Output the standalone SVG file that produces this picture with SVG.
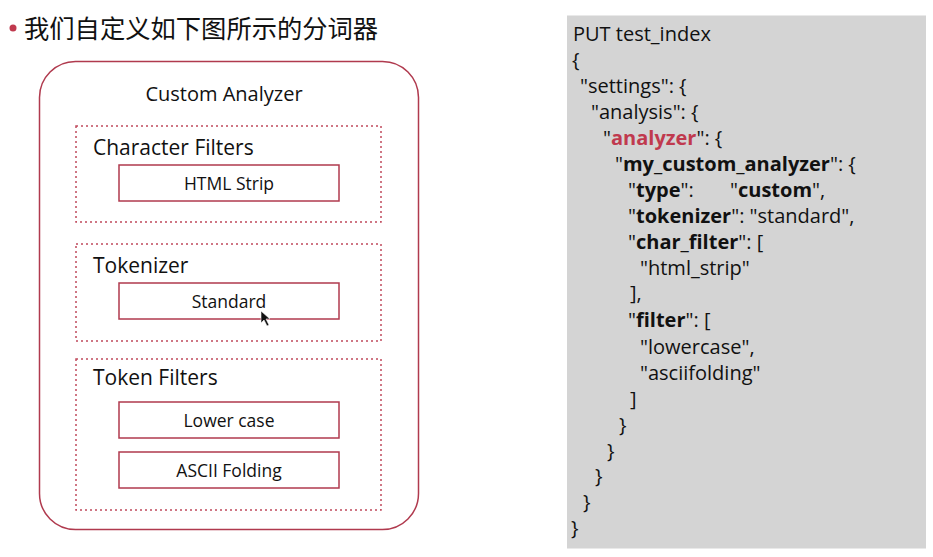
<svg xmlns="http://www.w3.org/2000/svg" width="933" height="557" viewBox="0 0 933 557">
<style>
text{font-family:"Open Sans","Noto Sans","Noto Sans CJK SC",sans-serif;fill:#111}
.outer{fill:none;stroke:#b03a4e;stroke-width:1.5}
.dash{fill:none;stroke:#c04a5c;stroke-width:1.5;stroke-dasharray:2 3}
.box{fill:#fff;stroke:#b03a4e;stroke-width:1.5}
.h{font-size:21px}
.b{font-size:17.5px;text-anchor:middle}
.code{font-size:20px}
.k{font-weight:bold}
.r{fill:#c0394e;font-weight:bold}
</style>
<rect width="933" height="557" fill="#fff"/>
<circle cx="13" cy="28" r="3.5" fill="#c0394e"/>
<text x="24" y="38" style="font-family:'Noto Sans CJK SC',sans-serif;font-size:25.3px">我们自定义如下图所示的分词器</text>
<g id="analyzer">
<rect class="outer" x="39.5" y="61.5" width="379" height="468" rx="36"/>
<text x="224" y="101" class="h" text-anchor="middle" style="font-size:20px">Custom Analyzer</text>
</g>
<g id="charfilters">
<rect class="dash" x="76" y="126" width="305" height="96"/>
<text x="93" y="155" class="h">Character Filters</text>
</g>
<g id="htmlstrip">
<rect class="box" x="119" y="165" width="220" height="36"/>
<text x="229" y="190" class="b">HTML Strip</text>
</g>
<g id="tokenizer">
<rect class="dash" x="76" y="244" width="305" height="97"/>
<text x="93" y="273" class="h">Tokenizer</text>
</g>
<g id="standard">
<rect class="box" x="119" y="283" width="220" height="36"/>
<text x="229" y="308" class="b">Standard</text>
</g>
<g id="tokenfilters">
<rect class="dash" x="76" y="359" width="305" height="151"/>
<text x="93" y="385" class="h">Token Filters</text>
</g>
<g id="lowercase">
<rect class="box" x="119" y="402" width="220" height="36"/>
<text x="229" y="427" class="b">Lower case</text>
</g>
<g id="asciifolding">
<rect class="box" x="119" y="452" width="220" height="36"/>
<text x="229" y="477" class="b">ASCII Folding</text>
</g>
<g id="connectors"></g>
<polygon points="261,311 261,323 264,320 267,326 269,325 266,319 270,319" fill="#111" stroke="#fff" stroke-width="0.6"/>
<g id="code">
<rect x="567" y="15.5" width="359" height="533" fill="#d4d4d4"/>
<text class="code" x="573" y="41">PUT test_index</text>
<text class="code" x="572" y="67">{</text>
<text class="code" x="580" y="93">"settings": {</text>
<text class="code" x="591" y="119">"analysis": {</text>
<text class="code" x="603" y="145">"<tspan class="r">analyzer</tspan>": {</text>
<text class="code" x="615" y="171">"<tspan class="k">my_custom_analyzer</tspan>": {</text>
<text class="code" x="628" y="197">"<tspan class="k">type</tspan>":<tspan x="730">"</tspan><tspan class="k">custom</tspan>",</text>
<text class="code" x="628" y="223">"<tspan class="k">tokenizer</tspan>": "standard",</text>
<text class="code" x="628" y="249">"<tspan class="k">char_filter</tspan>": [</text>
<text class="code" x="640" y="275">"html_strip"</text>
<text class="code" x="630" y="300">],</text>
<text class="code" x="628" y="327">"<tspan class="k">filter</tspan>": [</text>
<text class="code" x="640" y="354">"lowercase",</text>
<text class="code" x="640" y="380">"asciifolding"</text>
<text class="code" x="630" y="406">]</text>
<text class="code" x="619" y="432">}</text>
<text class="code" x="607" y="458">}</text>
<text class="code" x="595" y="483">}</text>
<text class="code" x="583" y="509">}</text>
<text class="code" x="571" y="535">}</text>
</g>
</svg>
